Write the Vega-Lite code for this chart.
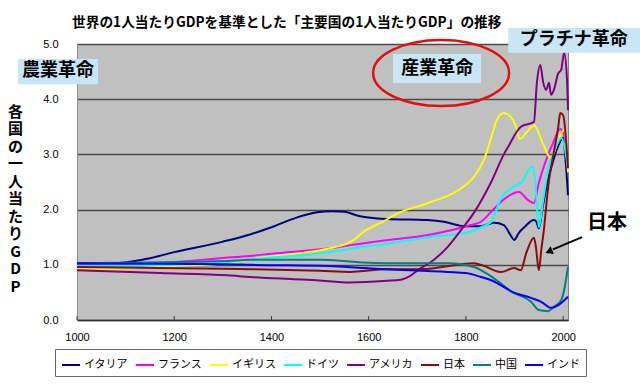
{
 "$schema": "https://vega.github.io/schema/vega-lite/v6.json",
 "width": 491,
 "height": 276,
 "autosize": {"type": "none"},
 "padding": {"left": 77, "top": 44, "right": 72, "bottom": 65},
 "background": "white",
 "config": {"view": {"fill": "#c0c0c0", "stroke": "#808080", "strokeWidth": 1}, "font": "Liberation Sans"},
 "title": {"text": "世界の1人当たりGDPを基準とした「主要国の1人当たりGDP」の推移", "anchor": "start", "frame": "group", "dx": -5, "offset": -9, "baseline": "middle", "font": "Noto Sans CJK JP", "fontSize": 13.7, "fontWeight": "bold", "color": "#000"},
 "datasets": {
  "gdp": [
   {"c":"イタリア","yr":1000,"v":1.02},{"c":"イタリア","yr":1080,"v":1.03},{"c":"イタリア","yr":1150,"v":1.12},{"c":"イタリア","yr":1200,"v":1.23},{"c":"イタリア","yr":1300,"v":1.42},{"c":"イタリア","yr":1356,"v":1.55},{"c":"イタリア","yr":1400,"v":1.68},{"c":"イタリア","yr":1450,"v":1.85},{"c":"イタリア","yr":1494,"v":1.95},{"c":"イタリア","yr":1525,"v":1.97},{"c":"イタリア","yr":1550,"v":1.96},{"c":"イタリア","yr":1582,"v":1.88},{"c":"イタリア","yr":1637,"v":1.83},{"c":"イタリア","yr":1720,"v":1.81},{"c":"イタリア","yr":1755,"v":1.78},{"c":"イタリア","yr":1796,"v":1.70},{"c":"イタリア","yr":1830,"v":1.70},{"c":"イタリア","yr":1858,"v":1.76},{"c":"イタリア","yr":1878,"v":1.72},{"c":"イタリア","yr":1893,"v":1.52},{"c":"イタリア","yr":1899,"v":1.45},{"c":"イタリア","yr":1909,"v":1.58},{"c":"イタリア","yr":1920,"v":1.68},{"c":"イタリア","yr":1940,"v":1.81},{"c":"イタリア","yr":1945,"v":1.78},{"c":"イタリア","yr":1950,"v":1.66},{"c":"イタリア","yr":1958,"v":2.05},{"c":"イタリア","yr":1969,"v":2.54},{"c":"イタリア","yr":1980,"v":2.9},{"c":"イタリア","yr":1992,"v":3.2},{"c":"イタリア","yr":2000,"v":3.3},{"c":"イタリア","yr":2005,"v":2.9},{"c":"イタリア","yr":2010,"v":2.26},
   {"c":"フランス","yr":1000,"v":0.99},{"c":"フランス","yr":1100,"v":1.0},{"c":"フランス","yr":1200,"v":1.05},{"c":"フランス","yr":1295,"v":1.12},{"c":"フランス","yr":1356,"v":1.16},{"c":"フランス","yr":1400,"v":1.2},{"c":"フランス","yr":1520,"v":1.3},{"c":"フランス","yr":1604,"v":1.41},{"c":"フランス","yr":1640,"v":1.45},{"c":"フランス","yr":1722,"v":1.54},{"c":"フランス","yr":1810,"v":1.72},{"c":"フランス","yr":1831,"v":1.78},{"c":"フランス","yr":1852,"v":1.96},{"c":"フランス","yr":1872,"v":2.14},{"c":"フランス","yr":1909,"v":2.32},{"c":"フランス","yr":1928,"v":2.17},{"c":"フランス","yr":1940,"v":2.12},{"c":"フランス","yr":1950,"v":2.48},{"c":"フランス","yr":1965,"v":2.9},{"c":"フランス","yr":1979,"v":3.2},{"c":"フランス","yr":1994,"v":3.46},{"c":"フランス","yr":2002,"v":3.35},{"c":"フランス","yr":2010,"v":2.75},
   {"c":"イギリス","yr":1000,"v":0.94},{"c":"イギリス","yr":1070,"v":0.93},{"c":"イギリス","yr":1200,"v":0.98},{"c":"イギリス","yr":1310,"v":1.03},{"c":"イギリス","yr":1356,"v":1.1},{"c":"イギリス","yr":1450,"v":1.2},{"c":"イギリス","yr":1520,"v":1.3},{"c":"イギリス","yr":1562,"v":1.41},{"c":"イギリス","yr":1590,"v":1.6},{"c":"イギリス","yr":1637,"v":1.82},{"c":"イギリス","yr":1652,"v":1.9},{"c":"イギリス","yr":1722,"v":2.12},{"c":"イギリス","yr":1784,"v":2.35},{"c":"イギリス","yr":1817,"v":2.6},{"c":"イギリス","yr":1837,"v":2.9},{"c":"イギリス","yr":1852,"v":3.3},{"c":"イギリス","yr":1862,"v":3.59},{"c":"イギリス","yr":1878,"v":3.75},{"c":"イギリス","yr":1897,"v":3.62},{"c":"イギリス","yr":1903,"v":3.5},{"c":"イギリス","yr":1911,"v":3.28},{"c":"イギリス","yr":1925,"v":3.4},{"c":"イギリス","yr":1940,"v":3.53},{"c":"イギリス","yr":1961,"v":3.14},{"c":"イギリス","yr":1975,"v":2.93},{"c":"イギリス","yr":1990,"v":3.26},{"c":"イギリス","yr":2002,"v":3.44},{"c":"イギリス","yr":2010,"v":2.68},
   {"c":"ドイツ","yr":1000,"v":0.98},{"c":"ドイツ","yr":1200,"v":1.0},{"c":"ドイツ","yr":1310,"v":1.05},{"c":"ドイツ","yr":1356,"v":1.1},{"c":"ドイツ","yr":1412,"v":1.14},{"c":"ドイツ","yr":1520,"v":1.23},{"c":"ドイツ","yr":1548,"v":1.27},{"c":"ドイツ","yr":1637,"v":1.38},{"c":"ドイツ","yr":1722,"v":1.5},{"c":"ドイツ","yr":1810,"v":1.6},{"c":"ドイツ","yr":1831,"v":1.68},{"c":"ドイツ","yr":1852,"v":1.78},{"c":"ドイツ","yr":1872,"v":2.2},{"c":"ドイツ","yr":1899,"v":2.42},{"c":"ドイツ","yr":1915,"v":2.5},{"c":"ドイツ","yr":1936,"v":2.78},{"c":"ドイツ","yr":1942,"v":2.55},{"c":"ドイツ","yr":1950,"v":1.68},{"c":"ドイツ","yr":1959,"v":2.17},{"c":"ドイツ","yr":1969,"v":2.72},{"c":"ドイツ","yr":1979,"v":3.0},{"c":"ドイツ","yr":1992,"v":3.26},{"c":"ドイツ","yr":1996,"v":3.3},{"c":"ドイツ","yr":2010,"v":2.75},
   {"c":"アメリカ","yr":1000,"v":0.9},{"c":"アメリカ","yr":1171,"v":0.85},{"c":"アメリカ","yr":1310,"v":0.81},{"c":"アメリカ","yr":1356,"v":0.78},{"c":"アメリカ","yr":1445,"v":0.74},{"c":"アメリカ","yr":1493,"v":0.72},{"c":"アメリカ","yr":1562,"v":0.68},{"c":"アメリカ","yr":1637,"v":0.71},{"c":"アメリカ","yr":1666,"v":0.73},{"c":"アメリカ","yr":1687,"v":0.81},{"c":"アメリカ","yr":1707,"v":0.94},{"c":"アメリカ","yr":1728,"v":1.05},{"c":"アメリカ","yr":1763,"v":1.33},{"c":"アメリカ","yr":1790,"v":1.63},{"c":"アメリカ","yr":1817,"v":1.95},{"c":"アメリカ","yr":1852,"v":2.5},{"c":"アメリカ","yr":1878,"v":3.0},{"c":"アメリカ","yr":1887,"v":3.14},{"c":"アメリカ","yr":1913,"v":3.5},{"c":"アメリカ","yr":1940,"v":3.59},{"c":"アメリカ","yr":1946,"v":4.3},{"c":"アメリカ","yr":1953,"v":4.62},{"c":"アメリカ","yr":1959,"v":4.3},{"c":"アメリカ","yr":1965,"v":4.17},{"c":"アメリカ","yr":1971,"v":4.3},{"c":"アメリカ","yr":1975,"v":4.08},{"c":"アメリカ","yr":1981,"v":4.17},{"c":"アメリカ","yr":1990,"v":4.47},{"c":"アメリカ","yr":1996,"v":4.53},{"c":"アメリカ","yr":2002,"v":4.84},{"c":"アメリカ","yr":2008,"v":4.35},{"c":"アメリカ","yr":2010,"v":3.8},
   {"c":"日本","yr":1000,"v":0.96},{"c":"日本","yr":1300,"v":0.93},{"c":"日本","yr":1356,"v":0.92},{"c":"日本","yr":1500,"v":0.89},{"c":"日本","yr":1562,"v":0.87},{"c":"日本","yr":1637,"v":0.92},{"c":"日本","yr":1707,"v":0.92},{"c":"日本","yr":1817,"v":1.03},{"c":"日本","yr":1837,"v":0.98},{"c":"日本","yr":1872,"v":0.87},{"c":"日本","yr":1899,"v":0.94},{"c":"日本","yr":1913,"v":0.9},{"c":"日本","yr":1924,"v":1.21},{"c":"日本","yr":1940,"v":1.49},{"c":"日本","yr":1944,"v":1.32},{"c":"日本","yr":1950,"v":0.9},{"c":"日本","yr":1955,"v":1.27},{"c":"日本","yr":1961,"v":1.68},{"c":"日本","yr":1965,"v":2.05},{"c":"日本","yr":1971,"v":2.54},{"c":"日本","yr":1979,"v":2.95},{"c":"日本","yr":1990,"v":3.5},{"c":"日本","yr":1994,"v":3.75},{"c":"日本","yr":2000,"v":3.71},{"c":"日本","yr":2010,"v":2.75},
   {"c":"中国","yr":1000,"v":1.03},{"c":"中国","yr":1310,"v":1.07},{"c":"中国","yr":1356,"v":1.09},{"c":"中国","yr":1500,"v":1.09},{"c":"中国","yr":1548,"v":1.07},{"c":"中国","yr":1590,"v":1.04},{"c":"中国","yr":1637,"v":1.03},{"c":"中国","yr":1763,"v":1.03},{"c":"中国","yr":1817,"v":0.96},{"c":"中国","yr":1837,"v":0.87},{"c":"中国","yr":1852,"v":0.79},{"c":"中国","yr":1866,"v":0.7},{"c":"中国","yr":1893,"v":0.52},{"c":"中国","yr":1934,"v":0.33},{"c":"中国","yr":1950,"v":0.18},{"c":"中国","yr":1969,"v":0.16},{"c":"中国","yr":1981,"v":0.24},{"c":"中国","yr":1996,"v":0.36},{"c":"中国","yr":2002,"v":0.54},{"c":"中国","yr":2010,"v":0.96},
   {"c":"インド","yr":1000,"v":1.03},{"c":"インド","yr":1310,"v":1.01},{"c":"インド","yr":1356,"v":1.0},{"c":"インド","yr":1520,"v":0.98},{"c":"インド","yr":1590,"v":0.94},{"c":"インド","yr":1637,"v":0.92},{"c":"インド","yr":1763,"v":0.87},{"c":"インド","yr":1800,"v":0.85},{"c":"インド","yr":1831,"v":0.78},{"c":"インド","yr":1852,"v":0.72},{"c":"インド","yr":1866,"v":0.66},{"c":"インド","yr":1893,"v":0.52},{"c":"インド","yr":1934,"v":0.4},{"c":"インド","yr":1955,"v":0.33},{"c":"インド","yr":1975,"v":0.22},{"c":"インド","yr":1990,"v":0.27},{"c":"インド","yr":2010,"v":0.42}
  ],
  "ticks": [{"yr":1000},{"yr":1200},{"yr":1400},{"yr":1600},{"yr":1800},{"yr":2000}],
  "boxes": [
   {"yr":879,"yr2":1043,"v":4.27,"v2":4.73},
   {"yr":1650,"yr2":1831,"v":4.29,"v2":4.82},
   {"yr":1887,"yr2":2160,"v":4.84,"v2":5.29}
  ],
  "labels": [
   {"t":"農業革命","yr":961,"v":4.51},
   {"t":"産業革命","yr":1741,"v":4.55},
   {"t":"プラチナ革命","yr":2022,"v":5.07}
  ],
  "ellipse": [{"yr":1749,"v":4.475}],
  "jp": [{"t":"日本","yr":2090,"v":1.76}],
  "arrow": [{"yr":2039,"v":1.5,"yr2":1979,"v2":1.28}],
  "head": [{"yr":1973,"v":1.25}]
 },
 "layer": [
  {
   "data": {"name": "ticks"},
   "mark": {"type": "rule", "color": "#333", "strokeWidth": 1},
   "encoding": {
    "x": {"field": "yr", "type": "quantitative"},
    "y": {"datum": 0},
    "y2": {"datum": 0.07}
   }
  },
  {
   "data": {"name": "gdp"},
   "mark": {"type": "line", "strokeWidth": 2, "interpolate": "monotone"},
   "encoding": {
    "x": {"field": "yr", "type": "quantitative", "scale": {"domain": [1000, 2010], "nice": false, "zero": false},
     "axis": {"values": [1000, 1200, 1400, 1600, 1800, 2000], "format": "d", "title": null, "grid": false, "ticks": false, "labelPadding": 11, "labelFontSize": 11, "labelColor": "#000", "labelFlush": false, "domainColor": "#333", "domainWidth": 1.5, "labelFont": "Liberation Sans"}},
    "y": {"field": "v", "type": "quantitative", "scale": {"domain": [0, 5], "nice": false},
     "axis": {"values": [0, 0.5, 1, 1.5, 2, 2.5, 3, 3.5, 4, 4.5, 5], "format": ".1f", "title": ["各","国","の","一","人","当","た","り","G","D","P"], "titleAngle": 0, "titleX": -62, "titleY": 60, "titleAlign": "center", "titleBaseline": "top", "titleFontSize": 15, "titleFontWeight": "bold", "titleFont": "Noto Sans CJK JP", "titleLineHeight": 17.5, "titleColor": "#000", "grid": true, "gridColor": "#4a4a4a", "gridWidth": 1.5, "ticks": false, "labelPadding": 19, "labelFontSize": 11, "labelColor": "#000", "labelFlush": false, "domainColor": "#909090", "labelFont": "Liberation Sans"}},
    "color": {"field": "c", "type": "nominal",
     "scale": {"domain": ["イタリア","フランス","イギリス","ドイツ","アメリカ","日本","中国","インド"], "range": ["#000080","#ff00ff","#ffff00","#00ffff","#800080","#8b0a0a","#008080","#0000ff"]},
     "legend": {"orient": "none", "legendX": -22, "legendY": 305, "direction": "horizontal", "columns": 8, "title": null, "symbolType": "stroke", "symbolSize": 324, "symbolStrokeWidth": 2, "labelFont": "Noto Sans CJK JP", "labelFontSize": 11, "labelColor": "#000", "columnPadding": 4, "labelOffset": 3, "padding": 6, "strokeColor": "#666", "fillColor": "#fff"}}
   }
  },
  {
   "data": {"name": "boxes"},
   "mark": {"type": "rect", "color": "#c9e6f7"},
   "encoding": {
    "x": {"field": "yr", "type": "quantitative"},
    "x2": {"field": "yr2"},
    "y": {"field": "v", "type": "quantitative"},
    "y2": {"field": "v2"}
   }
  },
  {
   "data": {"name": "labels"},
   "mark": {"type": "text", "font": "Noto Sans CJK JP", "fontSize": 18, "fontWeight": "bold", "color": "#000", "align": "center", "baseline": "middle"},
   "encoding": {
    "x": {"field": "yr", "type": "quantitative"},
    "y": {"field": "v", "type": "quantitative"},
    "text": {"field": "t"}
   }
  },
  {
   "data": {"name": "ellipse"},
   "mark": {"type": "point", "shape": "M -1 0 A 1 0.485 0 1 1 1 0 A 1 0.485 0 1 1 -1 0 Z", "size": 18496, "filled": false, "stroke": "#e01010", "strokeWidth": 2.5, "opacity": 1},
   "encoding": {
    "x": {"field": "yr", "type": "quantitative"},
    "y": {"field": "v", "type": "quantitative"}
   }
  },
  {
   "data": {"name": "jp"},
   "mark": {"type": "text", "font": "Noto Sans CJK JP", "fontSize": 20, "fontWeight": "bold", "color": "#000", "align": "center", "baseline": "middle"},
   "encoding": {
    "x": {"field": "yr", "type": "quantitative"},
    "y": {"field": "v", "type": "quantitative"},
    "text": {"field": "t"}
   }
  },
  {
   "data": {"name": "arrow"},
   "mark": {"type": "rule", "color": "#000", "strokeWidth": 2},
   "encoding": {
    "x": {"field": "yr", "type": "quantitative"},
    "x2": {"field": "yr2"},
    "y": {"field": "v", "type": "quantitative"},
    "y2": {"field": "v2"}
   }
  },
  {
   "data": {"name": "head"},
   "mark": {"type": "point", "shape": "triangle", "angle": 247, "size": 70, "filled": true, "color": "#000", "opacity": 1},
   "encoding": {
    "x": {"field": "yr", "type": "quantitative"},
    "y": {"field": "v", "type": "quantitative"}
   }
  }
 ]
}
